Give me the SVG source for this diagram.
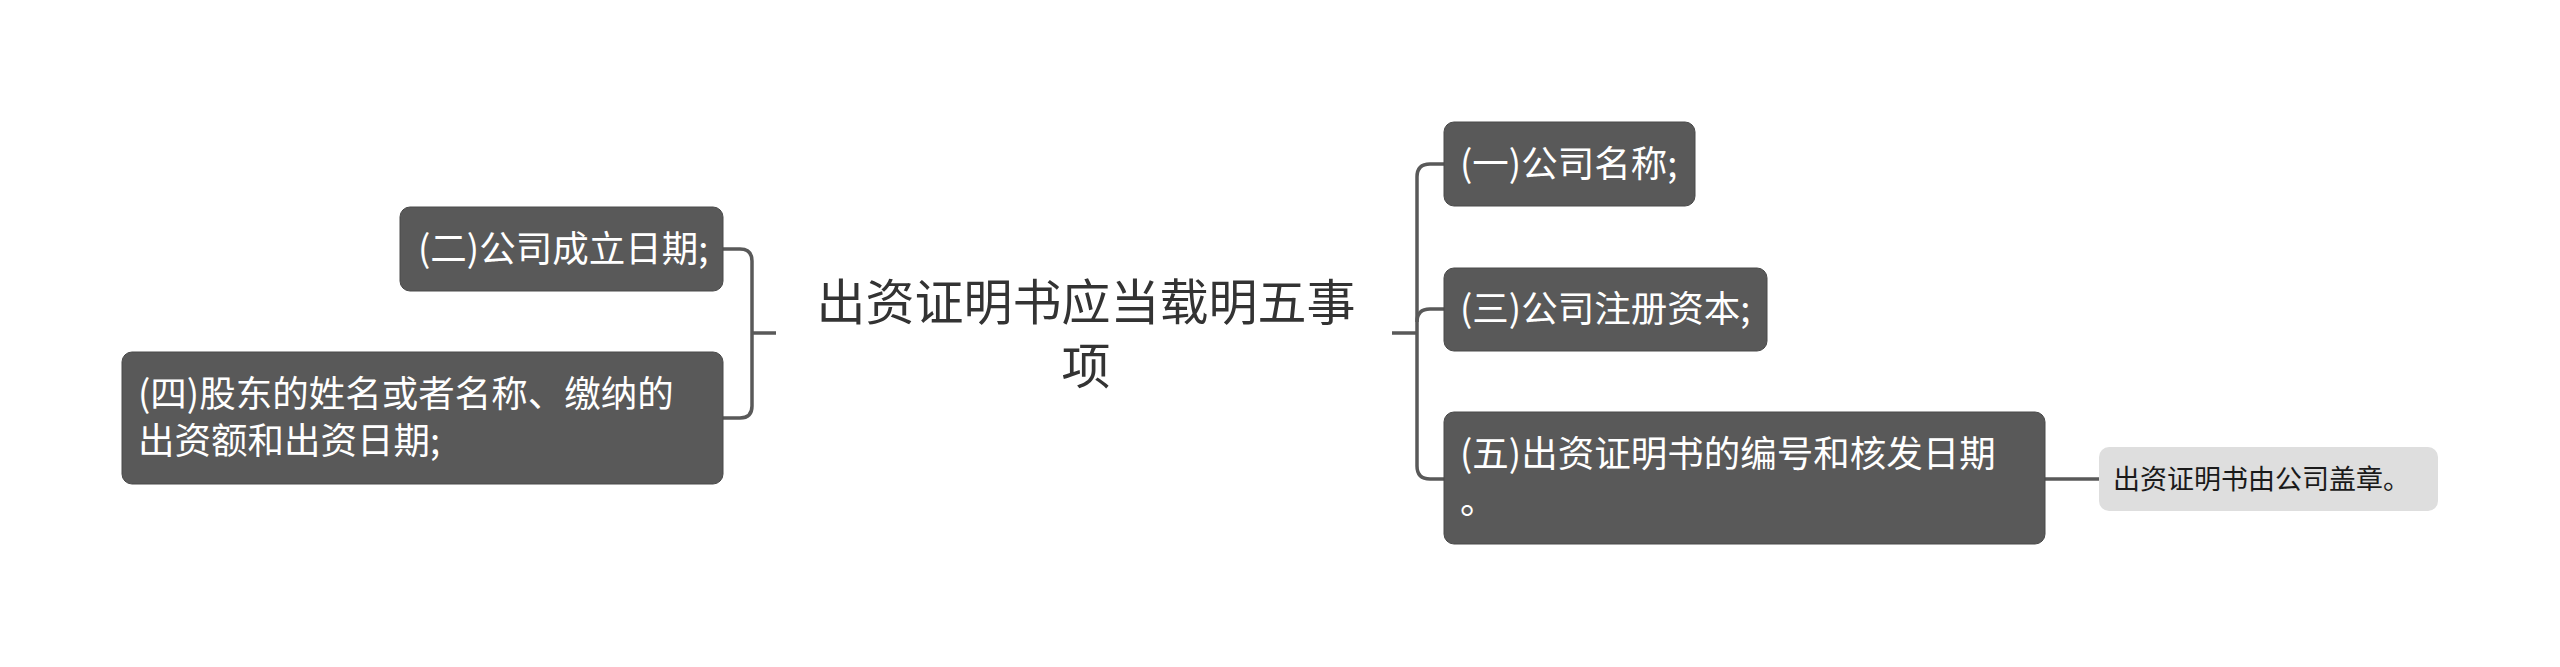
<svg xmlns="http://www.w3.org/2000/svg" width="2560" height="667" viewBox="0 0 2560 667">
  <style>
    .node { fill: #595959; stroke: #4a4a4a; stroke-width: 1; }
    .sub { fill: #dedede; stroke: none; }
    .t { font-family: "Noto Sans CJK SC", "Noto Sans", sans-serif; font-size: 36.5px; fill: #ffffff; }
    .ts { font-family: "Noto Sans CJK SC", "Noto Sans", sans-serif; font-size: 27px; fill: #1a1a1a; }
    .tc { font-family: "Noto Sans CJK SC", "Noto Sans", sans-serif; font-size: 49px; fill: #333333; text-anchor: middle; }
    .conn { fill: none; stroke: #595959; stroke-width: 3.5; stroke-linecap: butt; }
  </style>
  <rect width="2560" height="667" fill="#ffffff"/>

  <g id="connectors">
    <path class="conn" d="M723,249 H740 Q752,249 752,261 V406 Q752,418 740,418 H723"/>
    <path class="conn" d="M752,333 H776"/>
    <path class="conn" d="M1392,333 H1417"/>
    <path class="conn" d="M1444,164 H1430 Q1417,164 1417,177 V466 Q1417,479 1430,479 H1444"/>
    <path class="conn" d="M1417,322 Q1417,309 1430,309 H1444"/>
    <path class="conn" d="M2045,479 H2099"/>
  </g>

  <g id="root">
    <text class="tc"><tspan x="1086" y="320">出资证明书应当载明五事</tspan><tspan x="1086" y="384">项</tspan></text>
  </g>

  <g id="node-2">
    <rect class="node" x="400" y="207" width="323" height="84" rx="10"/>
    <text class="t" x="418" y="262">(二)公司成立日期;</text>
  </g>

  <g id="node-4">
    <rect class="node" x="122" y="352" width="601" height="132" rx="10"/>
    <text class="t"><tspan x="138" y="407">(四)股东的姓名或者名称、缴纳的</tspan><tspan x="138" y="454">出资额和出资日期;</tspan></text>
  </g>

  <g id="node-1">
    <rect class="node" x="1444" y="122" width="251" height="84" rx="10"/>
    <text class="t" x="1460" y="177">(一)公司名称;</text>
  </g>

  <g id="node-3">
    <rect class="node" x="1444" y="268" width="323" height="83" rx="10"/>
    <text class="t" x="1460" y="322">(三)公司注册资本;</text>
  </g>

  <g id="node-5">
    <rect class="node" x="1444" y="412" width="601" height="132" rx="10"/>
    <text class="t"><tspan x="1460" y="467">(五)出资证明书的编号和核发日期</tspan><tspan x="1460" y="514">。</tspan></text>
  </g>

  <g id="node-5-1">
    <rect class="sub" x="2099" y="447" width="339" height="64" rx="10"/>
    <text class="ts" x="2113" y="489">出资证明书由公司盖章。</text>
  </g>
</svg>
